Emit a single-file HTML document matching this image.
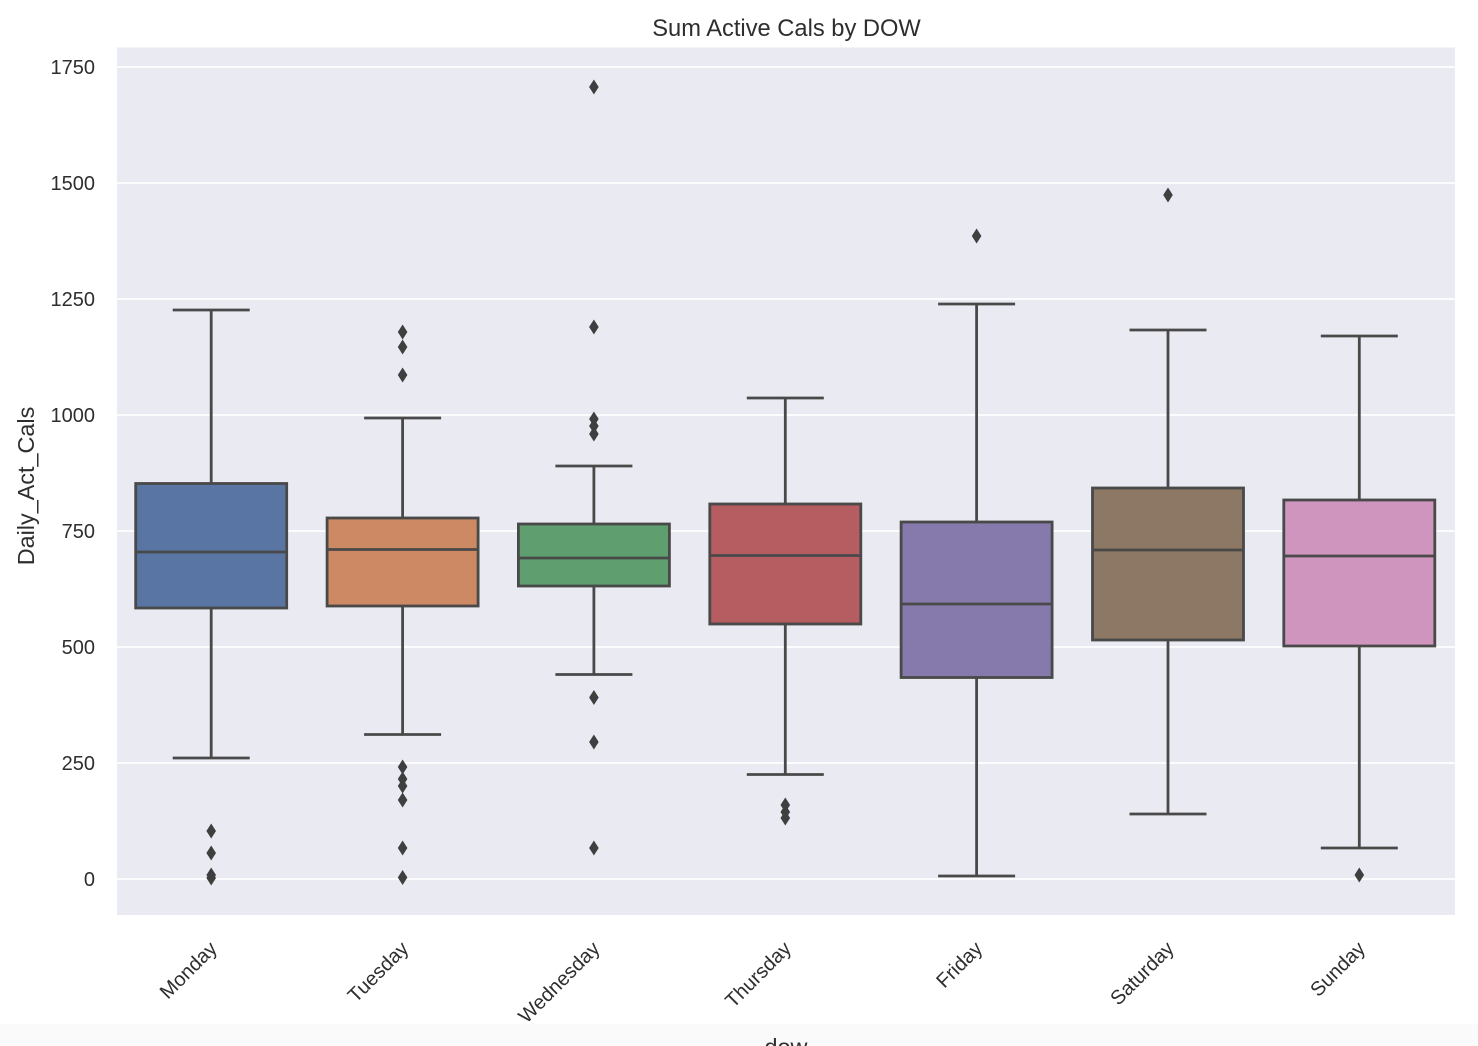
<!DOCTYPE html>
<html>
<head>
<meta charset="utf-8">
<style>
  html, body { margin: 0; padding: 0; background: #ffffff; }
  svg { display: block; }
  text { font-family: "Liberation Sans", Arial, sans-serif; fill: #2e2e2e; }
</style>
</head>
<body>
<svg width="1478" height="1046" viewBox="0 0 1478 1046" xmlns="http://www.w3.org/2000/svg">
  <rect x="0" y="0" width="1478" height="1046" fill="#ffffff"/>
  <rect x="0" y="1024" width="1478" height="22" fill="#fafafa"/>

  <!-- axes background -->
  <rect x="117" y="47.5" width="1338" height="867.5" fill="#eaeaf2"/>

  <!-- grid lines -->
  <g stroke="#ffffff" stroke-width="1.8">
    <line x1="117" x2="1455" y1="67" y2="67"/>
    <line x1="117" x2="1455" y1="183" y2="183"/>
    <line x1="117" x2="1455" y1="299" y2="299"/>
    <line x1="117" x2="1455" y1="415" y2="415"/>
    <line x1="117" x2="1455" y1="531" y2="531"/>
    <line x1="117" x2="1455" y1="647" y2="647"/>
    <line x1="117" x2="1455" y1="763" y2="763"/>
    <line x1="117" x2="1455" y1="879" y2="879"/>
  </g>

  <!-- y tick labels -->
  <g font-size="20" text-anchor="end" dominant-baseline="central">
    <text x="95" y="68">1750</text>
    <text x="95" y="184">1500</text>
    <text x="95" y="300">1250</text>
    <text x="95" y="416">1000</text>
    <text x="95" y="532">750</text>
    <text x="95" y="648">500</text>
    <text x="95" y="764">250</text>
    <text x="95" y="880">0</text>
  </g>

  <!-- y axis label -->
  <text x="0" y="0" font-size="23.4" text-anchor="middle" transform="translate(34,486) rotate(-90)">Daily_Act_Cals</text>

  <!-- title -->
  <text x="786.5" y="36" font-size="23.7" text-anchor="middle">Sum Active Cals by DOW</text>

  <!-- boxes -->
  <g stroke="#494949" stroke-width="2.8" fill="none">
    <!-- Monday -->
    <line x1="211.2" x2="211.2" y1="310" y2="483.5"/>
    <line x1="211.2" x2="211.2" y1="608" y2="758"/>
    <line x1="172.7" x2="249.7" y1="310" y2="310"/>
    <line x1="172.7" x2="249.7" y1="758" y2="758"/>
    <rect x="135.7" y="483.5" width="151" height="124.5" fill="#5975a4"/>
    <line x1="135.7" x2="286.7" y1="552" y2="552"/>

    <!-- Tuesday -->
    <line x1="402.6" x2="402.6" y1="418" y2="518"/>
    <line x1="402.6" x2="402.6" y1="606" y2="734.5"/>
    <line x1="364.1" x2="441.1" y1="418" y2="418"/>
    <line x1="364.1" x2="441.1" y1="734.5" y2="734.5"/>
    <rect x="327.1" y="518" width="151" height="88" fill="#cc8963"/>
    <line x1="327.1" x2="478.1" y1="549.5" y2="549.5"/>

    <!-- Wednesday -->
    <line x1="593.9" x2="593.9" y1="466" y2="524"/>
    <line x1="593.9" x2="593.9" y1="586" y2="674.5"/>
    <line x1="555.4" x2="632.4" y1="466" y2="466"/>
    <line x1="555.4" x2="632.4" y1="674.5" y2="674.5"/>
    <rect x="518.4" y="524" width="151" height="62" fill="#5f9e6e"/>
    <line x1="518.4" x2="669.4" y1="558" y2="558"/>

    <!-- Thursday -->
    <line x1="785.3" x2="785.3" y1="398" y2="504"/>
    <line x1="785.3" x2="785.3" y1="624" y2="774.5"/>
    <line x1="746.8" x2="823.8" y1="398" y2="398"/>
    <line x1="746.8" x2="823.8" y1="774.5" y2="774.5"/>
    <rect x="709.8" y="504" width="151" height="120" fill="#b55d60"/>
    <line x1="709.8" x2="860.8" y1="555.5" y2="555.5"/>

    <!-- Friday -->
    <line x1="976.6" x2="976.6" y1="304" y2="522"/>
    <line x1="976.6" x2="976.6" y1="677.5" y2="876"/>
    <line x1="938.1" x2="1015.1" y1="304" y2="304"/>
    <line x1="938.1" x2="1015.1" y1="876" y2="876"/>
    <rect x="901.1" y="522" width="151" height="155.5" fill="#857aab"/>
    <line x1="901.1" x2="1052.1" y1="604" y2="604"/>

    <!-- Saturday -->
    <line x1="1168" x2="1168" y1="330" y2="488"/>
    <line x1="1168" x2="1168" y1="640" y2="814"/>
    <line x1="1129.5" x2="1206.5" y1="330" y2="330"/>
    <line x1="1129.5" x2="1206.5" y1="814" y2="814"/>
    <rect x="1092.5" y="488" width="151" height="152" fill="#8d7866"/>
    <line x1="1092.5" x2="1243.5" y1="550" y2="550"/>

    <!-- Sunday -->
    <line x1="1359.3" x2="1359.3" y1="336" y2="500"/>
    <line x1="1359.3" x2="1359.3" y1="646" y2="848"/>
    <line x1="1320.8" x2="1397.8" y1="336" y2="336"/>
    <line x1="1320.8" x2="1397.8" y1="848" y2="848"/>
    <rect x="1283.8" y="500" width="151" height="146" fill="#d095bf"/>
    <line x1="1283.8" x2="1434.8" y1="556" y2="556"/>
  </g>

  <!-- outliers (thin diamonds) -->
  <defs>
    <path id="d" d="M0,-7.5 L4.8,0 L0,7.5 L-4.8,0 Z" fill="#3f3f3f"/>
  </defs>
  <g>
    <!-- Monday -->
    <use href="#d" x="211.2" y="831"/>
    <use href="#d" x="211.2" y="853"/>
    <use href="#d" x="211.2" y="875"/>
    <use href="#d" x="211.2" y="878"/>
    <!-- Tuesday -->
    <use href="#d" x="402.6" y="332"/>
    <use href="#d" x="402.6" y="347"/>
    <use href="#d" x="402.6" y="375"/>
    <use href="#d" x="402.6" y="767"/>
    <use href="#d" x="402.6" y="779"/>
    <use href="#d" x="402.6" y="786"/>
    <use href="#d" x="402.6" y="800"/>
    <use href="#d" x="402.6" y="848"/>
    <use href="#d" x="402.6" y="877.5"/>
    <!-- Wednesday -->
    <use href="#d" x="593.9" y="87"/>
    <use href="#d" x="593.9" y="327"/>
    <use href="#d" x="593.9" y="419"/>
    <use href="#d" x="593.9" y="426"/>
    <use href="#d" x="593.9" y="434"/>
    <use href="#d" x="593.9" y="697.5"/>
    <use href="#d" x="593.9" y="742"/>
    <use href="#d" x="593.9" y="848"/>
    <!-- Thursday -->
    <use href="#d" x="785.3" y="805"/>
    <use href="#d" x="785.3" y="812"/>
    <use href="#d" x="785.3" y="818"/>
    <!-- Friday -->
    <use href="#d" x="976.6" y="236"/>
    <!-- Saturday -->
    <use href="#d" x="1168" y="195"/>
    <!-- Sunday -->
    <use href="#d" x="1359.3" y="875"/>
  </g>

  <!-- x tick labels -->
  <g font-size="20" text-anchor="end" dominant-baseline="central">
    <text x="214" y="945.5" transform="rotate(-45 214 945.5)">Monday</text>
    <text x="405.4" y="945.5" transform="rotate(-45 405.4 945.5)">Tuesday</text>
    <text x="596.7" y="945.5" transform="rotate(-45 596.7 945.5)">Wednesday</text>
    <text x="788.1" y="945.5" transform="rotate(-45 788.1 945.5)">Thursday</text>
    <text x="979.4" y="945.5" transform="rotate(-45 979.4 945.5)">Friday</text>
    <text x="1170.8" y="945.5" transform="rotate(-45 1170.8 945.5)">Saturday</text>
    <text x="1362.1" y="945.5" transform="rotate(-45 1362.1 945.5)">Sunday</text>
  </g>

  <!-- x axis label (mostly cut off) -->
  <text x="786" y="1055" font-size="23.4" text-anchor="middle">dow</text>
</svg>
</body>
</html>
